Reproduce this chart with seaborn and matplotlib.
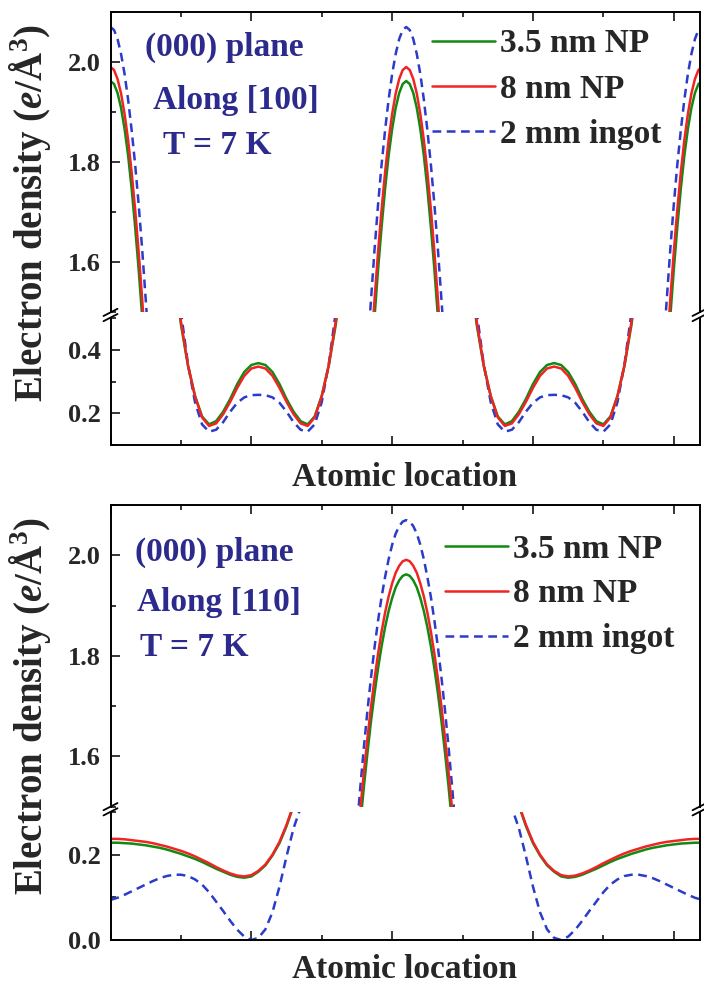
import matplotlib
matplotlib.use("Agg")
import matplotlib.pyplot as plt
from matplotlib.lines import Line2D
from matplotlib.ticker import MultipleLocator
import seaborn as sns
import pandas as pd

# ---------------- data ----------------
SAMPLES = ["2 mm ingot", "3.5 nm NP", "8 nm NP"]
LEGEND_ORDER = ["3.5 nm NP", "8 nm NP", "2 mm ingot"]
COLORS = {"3.5 nm NP": "#108a10", "8 nm NP": "#f02424", "2 mm ingot": "#2a3cc8"}

# (000) plane, along [100]
x_100 = [0.00, 0.05, 0.10, 0.15, 0.20, 0.25, 0.30, 0.35, 0.40, 0.45, 0.50, 1.00, 1.10, 1.20, 1.30, 1.40, 1.50, 1.60, 1.70, 1.80, 1.90, 2.00, 2.10,
         2.20, 2.30, 2.40, 2.50, 2.60, 2.70, 2.80, 2.90, 3.00, 3.10, 3.20, 3.70, 3.75, 3.80, 3.85, 3.90, 3.95, 4.00, 4.05, 4.10, 4.15, 4.20,
         4.25, 4.30, 4.35, 4.40, 4.45, 4.50, 4.55, 4.60, 4.65, 4.70, 5.20, 5.30, 5.40, 5.50, 5.60, 5.70, 5.80, 5.90, 6.00, 6.10, 6.20, 6.30,
         6.40, 6.50, 6.60, 6.70, 6.80, 6.90, 7.00, 7.10, 7.20, 7.30, 7.40, 7.90, 7.95, 8.00, 8.05, 8.10, 8.15, 8.20, 8.25, 8.30, 8.35, 8.40]

np35_100 = [1.962, 1.956, 1.938, 1.908, 1.866, 1.813, 1.747, 1.670, 1.585, 1.490, 1.390, 0.480, 0.350, 0.255, 0.190, 0.165, 0.175, 0.205, 0.245, 0.292, 0.330, 0.352, 0.358,
            0.352, 0.330, 0.292, 0.245, 0.205, 0.175, 0.165, 0.190, 0.255, 0.350, 0.480, 1.390, 1.490, 1.585, 1.670, 1.747, 1.813, 1.866, 1.908, 1.938, 1.956, 1.962,
            1.956, 1.938, 1.908, 1.866, 1.813, 1.747, 1.670, 1.585, 1.490, 1.390, 0.480, 0.350, 0.255, 0.190, 0.165, 0.175, 0.205, 0.245, 0.292, 0.330, 0.352, 0.358,
            0.352, 0.330, 0.292, 0.245, 0.205, 0.175, 0.165, 0.190, 0.255, 0.350, 0.480, 1.390, 1.490, 1.585, 1.670, 1.747, 1.813, 1.866, 1.908, 1.938, 1.956, 1.962]

np8_100 = [1.990, 1.984, 1.966, 1.937, 1.896, 1.844, 1.780, 1.705, 1.620, 1.525, 1.420, 0.490, 0.352, 0.253, 0.187, 0.160, 0.168, 0.197, 0.236, 0.280, 0.318, 0.341, 0.347,
           0.341, 0.318, 0.280, 0.236, 0.197, 0.168, 0.160, 0.187, 0.253, 0.352, 0.490, 1.420, 1.525, 1.620, 1.705, 1.780, 1.844, 1.896, 1.937, 1.966, 1.984, 1.990,
           1.984, 1.966, 1.937, 1.896, 1.844, 1.780, 1.705, 1.620, 1.525, 1.420, 0.490, 0.352, 0.253, 0.187, 0.160, 0.168, 0.197, 0.236, 0.280, 0.318, 0.341, 0.347,
           0.341, 0.318, 0.280, 0.236, 0.197, 0.168, 0.160, 0.187, 0.253, 0.352, 0.490, 1.420, 1.525, 1.620, 1.705, 1.780, 1.844, 1.896, 1.937, 1.966, 1.984, 1.990]

ingot_100 = [2.070, 2.064, 2.046, 2.016, 1.976, 1.925, 1.864, 1.795, 1.715, 1.625, 1.525, 0.520, 0.355, 0.235, 0.165, 0.142, 0.148, 0.172, 0.205, 0.233, 0.250, 0.257, 0.258,
             0.257, 0.250, 0.233, 0.205, 0.172, 0.148, 0.142, 0.165, 0.235, 0.355, 0.520, 1.525, 1.625, 1.715, 1.795, 1.864, 1.925, 1.976, 2.016, 2.046, 2.064, 2.070,
             2.064, 2.046, 2.016, 1.976, 1.925, 1.864, 1.795, 1.715, 1.625, 1.525, 0.520, 0.355, 0.235, 0.165, 0.142, 0.148, 0.172, 0.205, 0.233, 0.250, 0.257, 0.258,
             0.257, 0.250, 0.233, 0.205, 0.172, 0.148, 0.142, 0.165, 0.235, 0.355, 0.520, 1.525, 1.625, 1.715, 1.795, 1.864, 1.925, 1.976, 2.016, 2.046, 2.064, 2.070]

# (000) plane, along [110]
x_110 = [0.0, 0.1, 0.2, 0.3, 0.4, 0.5, 0.6, 0.7, 0.8, 0.9, 1.0, 1.1, 1.2, 1.3, 1.4, 1.5, 1.6, 1.7, 1.8, 1.9, 2.0, 2.1, 2.2, 2.3, 2.4, 2.5, 2.6, 2.7,
         3.50, 3.55, 3.60, 3.65, 3.70, 3.75, 3.80, 3.85, 3.90, 3.95, 4.00, 4.05, 4.10, 4.15, 4.20,
         4.25, 4.30, 4.35, 4.40, 4.45, 4.50, 4.55, 4.60, 4.65, 4.70, 4.75, 4.80, 4.85, 4.90,
         5.7, 5.8, 5.9, 6.0, 6.1, 6.2, 6.3, 6.4, 6.5, 6.6, 6.7, 6.8, 6.9, 7.0, 7.1, 7.2, 7.3, 7.4, 7.5, 7.6, 7.7, 7.8, 7.9, 8.0, 8.1, 8.2, 8.3, 8.4]

np35_110 = [0.228, 0.228, 0.227, 0.226, 0.224, 0.222, 0.219, 0.216, 0.212, 0.207, 0.202, 0.196, 0.190, 0.183, 0.175, 0.167, 0.160, 0.153, 0.148, 0.146, 0.149, 0.160, 0.175, 0.198, 0.227, 0.267, 0.315, 0.370,
            1.390, 1.468, 1.541, 1.608, 1.670, 1.725, 1.775, 1.819, 1.857, 1.889, 1.915, 1.936, 1.950, 1.959, 1.962,
            1.959, 1.950, 1.936, 1.915, 1.889, 1.857, 1.819, 1.775, 1.725, 1.670, 1.608, 1.541, 1.468, 1.390,
            0.370, 0.315, 0.267, 0.227, 0.198, 0.175, 0.160, 0.149, 0.146, 0.148, 0.153, 0.160, 0.167, 0.175, 0.183, 0.190, 0.196, 0.202, 0.207, 0.212, 0.216, 0.219, 0.222, 0.224, 0.226, 0.227, 0.228, 0.228]

np8_110 = [0.237, 0.237, 0.236, 0.234, 0.232, 0.230, 0.227, 0.223, 0.219, 0.214, 0.209, 0.203, 0.196, 0.188, 0.180, 0.171, 0.163, 0.156, 0.151, 0.149, 0.152, 0.162, 0.177, 0.200, 0.230, 0.270, 0.317, 0.372,
           1.420, 1.497, 1.570, 1.637, 1.699, 1.754, 1.804, 1.848, 1.886, 1.918, 1.944, 1.965, 1.979, 1.988, 1.991,
           1.988, 1.979, 1.965, 1.944, 1.918, 1.886, 1.848, 1.804, 1.754, 1.699, 1.637, 1.570, 1.497, 1.420,
           0.372, 0.317, 0.270, 0.230, 0.200, 0.177, 0.162, 0.152, 0.149, 0.151, 0.156, 0.163, 0.171, 0.180, 0.188, 0.196, 0.203, 0.209, 0.214, 0.219, 0.223, 0.227, 0.230, 0.232, 0.234, 0.236, 0.237, 0.237]

ingot_110 = [0.094, 0.099, 0.106, 0.114, 0.122, 0.130, 0.138, 0.145, 0.150, 0.153, 0.153, 0.150, 0.142, 0.130, 0.112, 0.090, 0.068, 0.045, 0.024, 0.008, 0.000, 0.005, 0.025, 0.065, 0.125, 0.196, 0.262, 0.310,
             1.458, 1.542, 1.620, 1.692, 1.757, 1.817, 1.870, 1.917, 1.957, 1.992, 2.021, 2.043, 2.058, 2.067, 2.070,
             2.067, 2.058, 2.043, 2.021, 1.992, 1.957, 1.917, 1.870, 1.817, 1.757, 1.692, 1.620, 1.542, 1.458,
             0.310, 0.262, 0.196, 0.125, 0.065, 0.025, 0.005, 0.000, 0.008, 0.024, 0.045, 0.068, 0.090, 0.112, 0.130, 0.142, 0.150, 0.153, 0.153, 0.150, 0.145, 0.138, 0.130, 0.122, 0.114, 0.106, 0.099, 0.094]

HIGH = (1.5, 2.1)
X_RANGE = (0.0, 8.365)

# Layout of the two panels in pixels: rows of the upper/lower part, legend and text anchors
PANELS = [
    {"x": x_100, "series": {"3.5 nm NP": np35_100, "8 nm NP": np8_100, "2 mm ingot": ingot_100},
     "direction": "Along [100]", "low": (0.1, 0.5),
     "rows": (12, 312, 318, 445), "legend": (431.7, 28.5),
     "notes": [(145, 47), (153, 100), (163, 145)], "xlabel_y": 478, "ylabel_y": 213},
    {"x": x_110, "series": {"3.5 nm NP": np35_110, "8 nm NP": np8_110, "2 mm ingot": ingot_110},
     "direction": "Along [110]", "low": (0.0, 0.3),
     "rows": (505, 806.5, 812, 940), "legend": (445, 533.5),
     "notes": [(135, 552), (137, 603), (140, 648)], "xlabel_y": 970, "ylabel_y": 706},
]

# ---------------- style ----------------
sns.set_style("ticks")
plt.rcParams["font.family"] = ["Liberation Serif", "DejaVu Serif"]
plt.rcParams["font.weight"] = "bold"
plt.rcParams["mathtext.fontset"] = "custom"
plt.rcParams["mathtext.rm"] = "Liberation Serif:bold"
plt.rcParams["mathtext.it"] = "Liberation Serif:italic:bold"
plt.rcParams["mathtext.bf"] = "Liberation Serif:bold"

W, H = 704, 989
fig = plt.figure(figsize=(W / 100, H / 100), dpi=100)

TEXT_BLUE = "#2c2a8c"
LW = 1.8
DASH = (3.5, 2.2)
LEFT, RIGHT = 110.5, 699.5


def fx(px):
    return px / W


def fy(py):
    return 1 - py / H


def style_axis(ax, xtop, xbottom):
    ax.set_xlim(*X_RANGE)
    ax.xaxis.set_major_locator(MultipleLocator(2))
    ax.xaxis.set_minor_locator(MultipleLocator(1))
    ax.tick_params(axis="x", which="both", direction="in", top=xtop, bottom=xbottom,
                   labelbottom=False, labeltop=False)
    ax.tick_params(axis="x", which="major", length=6.5, width=1.3)
    ax.tick_params(axis="x", which="minor", length=3.8, width=1.3)
    ax.tick_params(axis="y", which="both", direction="in", left=True, right=False,
                   labelsize=19, pad=7)
    ax.tick_params(axis="y", which="major", length=6.5, width=1.3)
    ax.tick_params(axis="y", which="minor", length=3.8, width=1.3)
    ax.set_xlabel("")
    ax.set_ylabel("")
    for s in ax.spines.values():
        s.set_color("black")
        s.set_linewidth(1.4)


def draw_break(ypix):
    for xc in (LEFT, RIGHT):
        for dy in (-2.6, 2.6):
            yc = ypix + dy
            fig.add_artist(Line2D([fx(xc - 7), fx(xc + 7)], [fy(yc + 3.6), fy(yc - 3.6)],
                                  color="black", lw=1.3, transform=fig.transFigure))


for panel in PANELS:
    up_top, up_bot, lo_top, lo_bot = panel["rows"]
    frames = [pd.DataFrame({"x": panel["x"], "density": panel["series"][n], "sample": n})
              for n in SAMPLES]
    df = pd.concat(frames, ignore_index=True)

    ax_hi = fig.add_axes([fx(LEFT), fy(up_bot), (RIGHT - LEFT) / W, (up_bot - up_top) / H])
    ax_lo = fig.add_axes([fx(LEFT), fy(lo_bot), (RIGHT - LEFT) / W, (lo_bot - lo_top) / H])

    for ax in (ax_hi, ax_lo):
        sns.lineplot(data=df, x="x", y="density", hue="sample", style="sample",
                     hue_order=SAMPLES, style_order=SAMPLES, palette=COLORS,
                     dashes={"3.5 nm NP": "", "8 nm NP": "", "2 mm ingot": DASH},
                     sort=False, estimator=None, linewidth=LW, legend=False, ax=ax)

    ax_hi.set_ylim(*HIGH)
    ax_hi.spines["bottom"].set_visible(False)
    style_axis(ax_hi, xtop=True, xbottom=False)
    ax_hi.yaxis.set_minor_locator(MultipleLocator(0.1))
    ax_hi.set_yticks([1.6, 1.8, 2.0])
    ax_hi.set_yticklabels(["1.6", "1.8", "2.0"])

    ax_lo.set_ylim(*panel["low"])
    ax_lo.spines["top"].set_visible(False)
    style_axis(ax_lo, xtop=False, xbottom=True)
    ax_lo.yaxis.set_major_locator(MultipleLocator(0.2))
    ax_lo.yaxis.set_minor_locator(MultipleLocator(0.1))

    draw_break((up_bot + lo_top) / 2)

    # legend
    handles = []
    for n in LEGEND_ORDER:
        h = Line2D([], [], color=COLORS[n], lw=LW)
        if n == "2 mm ingot":
            h.set_dashes(DASH)
        handles.append(h)
    lx, ly = panel["legend"]
    ax_hi.legend(handles, LEGEND_ORDER, loc="upper left", bbox_to_anchor=(fx(lx), fy(ly)),
                 bbox_transform=fig.transFigure, frameon=False, fontsize=24,
                 handlelength=1.9, handletextpad=0.15, labelspacing=0.42,
                 borderpad=0, borderaxespad=0)

    # annotations and axis titles
    for (px, py), txt in zip(panel["notes"], ["(000) plane", panel["direction"], "T = 7 K"]):
        fig.text(fx(px), fy(py), txt, color=TEXT_BLUE, fontsize=24, fontweight="bold",
                 ha="left", va="center")
    fig.text(fx(405), fy(panel["xlabel_y"]), "Atomic location", fontsize=24,
             fontweight="bold", ha="center", va="center")
    fig.text(fx(30), fy(panel["ylabel_y"]), r"Electron density ($\it{e}$/Å$^{3}$)",
             fontsize=28, fontweight="bold", rotation=90, ha="center", va="center")

fig.savefig("out.png", dpi=100)
